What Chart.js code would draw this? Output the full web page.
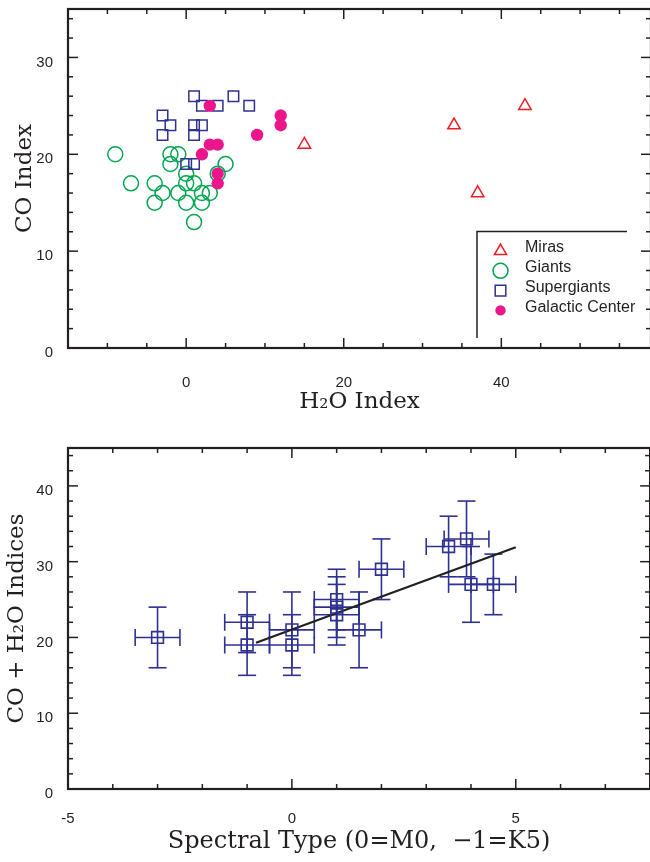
<!DOCTYPE html>
<html>
<head>
<meta charset="utf-8">
<script src="https://cdn.jsdelivr.net/npm/chart.js@4.4.1/dist/chart.umd.min.js"></script>
<style>
  html, body { margin: 0; padding: 0; background: #fff; overflow: hidden; }
  .panel { position: absolute; left: 0; width: 660px; height: 431px; }
  #top { top: 0; }
  #bottom { top: 431px; }
</style>
</head>
<body>
<div class="panel" id="top"><canvas id="indexChart"></canvas></div>
<div class="panel" id="bottom"><canvas id="typeChart"></canvas></div>
<script>
// top panel: CO index against H2O index, [H2O, CO]
const miras = [[15, 21], [34, 23], [37, 16], [43, 25]];
const giants = [[-9, 20], [-7, 17], [-4, 17], [-3, 16], [-4, 15], [-2, 20], [-1, 20], [-2, 19],
  [0, 18], [0, 17], [1, 17], [-1, 16], [0, 15], [2, 16], [3, 16], [2, 15], [1, 13], [5, 19], [4, 18]];
const supergiants = [[1, 26], [2, 25], [4, 25], [6, 26], [8, 25], [-3, 24], [-2, 23], [-3, 22],
  [1, 23], [2, 23], [1, 22], [0, 19], [1, 19]];
const galacticCenter = [[3, 25], [9, 22], [3, 21], [4, 21], [2, 20], [4, 18], [4, 17], [12, 24], [12, 23]];
const legendLabels = ['Miras', 'Giants', 'Supergiants', 'Galactic Center'];

// bottom panel: CO + H2O against spectral type
const spectralType = [-3, -1, -1, 0, 0, 1, 1, 1, 1.5, 2, 3.5, 3.9, 4, 4.5];
const combinedIndex = [20, 22, 19, 21, 19, 25, 24, 23, 21, 29, 32, 33, 27, 27];
const typeErr = [0.5, 0.5, 0.5, 0.5, 0.5, 0.5, 0.5, 0.5, 0.5, 0.5, 0.5, 0.5, 0.5, 0.5];
const indexErr = [4, 4, 4, 5, 4, 4, 4, 4, 5, 4, 4, 5, 5, 4];
const fitType = [-0.8, 5];
const fitIndex = [19.3, 31.9];

const RED = '#ed1c24', GREEN = '#00a651', NAVY = '#2e3192', MAGENTA = '#ec168c', INK = '#231f20';
const tickFont = { family: 'Liberation Sans', size: 15 };
const titleFont = { family: 'DejaVu Serif', size: 23 };
const noGrid = { display: false, drawTicks: false };

const toPts = arr => arr.map(p => ({ x: p[0], y: p[1] }));

// boxed frame with inward ticks on all four sides
const frameTicks = {
  id: 'frameTicks',
  afterDraw(chart, args, opts) {
    const { ctx, chartArea: a, scales: { x, y } } = chart;
    ctx.save();
    ctx.strokeStyle = INK;
    ctx.lineWidth = 1.5;
    const seg = (x1, y1, x2, y2) => { ctx.beginPath(); ctx.moveTo(x1, y1); ctx.lineTo(x2, y2); ctx.stroke(); };
    const isMajor = (v, step) => Math.abs(v / step - Math.round(v / step)) < 1e-6;
    for (let v = Math.ceil(x.min / opts.xMinor) * opts.xMinor; v <= x.max + 1e-9; v += opts.xMinor) {
      const px = x.getPixelForValue(v);
      const len = isMajor(v, opts.xMajor) ? 10 : 5;
      seg(px, a.bottom, px, a.bottom - len);
      seg(px, a.top, px, a.top + len);
    }
    for (let v = Math.ceil(y.min / opts.yMinor) * opts.yMinor; v <= y.max + 1e-9; v += opts.yMinor) {
      const py = y.getPixelForValue(v);
      const len = isMajor(v, opts.yMajor) ? 10 : 5;
      seg(a.left, py, a.left + len, py);
      seg(a.right, py, a.right - len, py);
    }
    ctx.lineWidth = 2.2;
    ctx.strokeRect(a.left, a.top, a.right - a.left, a.bottom - a.top);
    ctx.restore();
  }
};

function fixedScales(xH, yW) {
  return {
    x: { afterFit(s) { s.height = xH; s.paddingLeft = s.paddingRight = s.paddingTop = s.paddingBottom = 0; } },
    y: { afterFit(s) { s.width = yW; s.paddingLeft = s.paddingRight = s.paddingTop = s.paddingBottom = 0; } }
  };
}

// ---------- top chart ----------
const topDatasets = [
  { label: legendLabels[0], data: toPts(miras), pointStyle: 'triangle', pointRadius: 7.2,
    borderColor: RED, backgroundColor: 'rgba(0,0,0,0)', borderWidth: 1.5, order: 3 },
  { label: legendLabels[1], data: toPts(giants), pointStyle: 'circle', pointRadius: 7.5,
    borderColor: GREEN, backgroundColor: 'rgba(0,0,0,0)', borderWidth: 1.5, order: 3 },
  { label: legendLabels[2], data: toPts(supergiants), pointStyle: 'rect', pointRadius: 7.4,
    borderColor: NAVY, backgroundColor: 'rgba(0,0,0,0)', borderWidth: 1.5, order: 2 },
  { label: legendLabels[3], data: toPts(galacticCenter), pointStyle: 'circle', pointRadius: 6.2,
    borderColor: MAGENTA, backgroundColor: MAGENTA, borderWidth: 0, order: 1 }
];

const insetLegend = {
  id: 'insetLegend',
  afterDraw(chart) {
    const { ctx, chartArea: a } = chart;
    const left = a.right - 174, top = 231.5, bottom = a.bottom - 10;
    ctx.save();
    ctx.strokeStyle = INK;
    ctx.lineWidth = 1.5;
    ctx.beginPath();
    ctx.moveTo(a.right - 24, top);
    ctx.lineTo(left, top);
    ctx.lineTo(left, bottom);
    ctx.stroke();
    const sizes = [7, 7.5, 7.5, 5.2];
    chart.data.datasets.forEach((ds, i) => {
      const yRow = 249.5 + i * 19.8;
      ctx.fillStyle = ds.backgroundColor;
      ctx.strokeStyle = ds.borderColor;
      ctx.lineWidth = ds.borderWidth || 0;
      Chart.helpers.drawPoint(ctx, { pointStyle: ds.pointStyle, radius: sizes[i], rotation: 0,
        borderWidth: ds.borderWidth }, left + 23.5, yRow + 1.5);
      ctx.fillStyle = INK;
      ctx.font = '16px "Liberation Sans"';
      ctx.textBaseline = 'middle';
      ctx.textAlign = 'left';
      ctx.fillText(ds.label, left + 48, yRow - 1.5);
    });
    ctx.restore();
  }
};

const topFix = fixedScales(83, 68);
new Chart(document.getElementById('indexChart'), {
  type: 'scatter',
  data: { datasets: topDatasets },
  options: {
    responsive: true, maintainAspectRatio: false, animation: false, events: [],
    layout: { padding: { left: 0, top: 7, right: 7, bottom: 0 } },
    plugins: { legend: { display: false }, tooltip: { enabled: false },
      frameTicks: { xMinor: 5, xMajor: 20, yMinor: 2, yMajor: 10 } },
    scales: {
      x: {
        type: 'linear', min: -15, max: 59,
        grid: noGrid, border: { display: false },
        ticks: { stepSize: 5, autoSkip: false, maxRotation: 0, padding: 26, color: INK, font: tickFont,
          includeBounds: false, callback: v => (v % 20 === 0 ? String(v) : '') },
        title: { display: true, text: 'H₂O Index', color: INK, font: titleFont, padding: { top: 0, bottom: 15 } },
        afterFit: topFix.x.afterFit
      },
      y: {
        type: 'linear', min: 0, max: 35,
        grid: noGrid, border: { display: false },
        ticks: { stepSize: 2, autoSkip: false, padding: 15, labelOffset: 5, color: INK, font: tickFont,
          includeBounds: false, callback: v => (v % 10 === 0 ? String(v) : '') },
        title: { display: true, text: 'CO Index', color: INK, font: titleFont, padding: { top: 11, bottom: 0 } },
        afterFit: topFix.y.afterFit
      }
    }
  },
  plugins: [frameTicks, insetLegend]
});

// ---------- bottom chart ----------
const errorBars = {
  id: 'errorBars',
  beforeDatasetsDraw(chart) {
    const { ctx, scales: { x, y } } = chart;
    ctx.save();
    ctx.strokeStyle = NAVY;
    ctx.lineWidth = 1.6;
    const seg = (x1, y1, x2, y2) => { ctx.beginPath(); ctx.moveTo(x1, y1); ctx.lineTo(x2, y2); ctx.stroke(); };
    spectralType.forEach((t, i) => {
      const cx = x.getPixelForValue(t), cy = y.getPixelForValue(combinedIndex[i]);
      const x0 = x.getPixelForValue(t - typeErr[i]), x1 = x.getPixelForValue(t + typeErr[i]);
      const y0 = y.getPixelForValue(combinedIndex[i] - indexErr[i]), y1 = y.getPixelForValue(combinedIndex[i] + indexErr[i]);
      seg(x0, cy, x1, cy);
      seg(x0, cy - 8.5, x0, cy + 8.5);
      seg(x1, cy - 8.5, x1, cy + 8.5);
      seg(cx, y0, cx, y1);
      seg(cx - 9, y0, cx + 9, y0);
      seg(cx - 9, y1, cx + 9, y1);
    });
    ctx.restore();
  }
};

const botFix = fixedScales(73, 68);
new Chart(document.getElementById('typeChart'), {
  type: 'scatter',
  data: {
    datasets: [
      { label: 'stars', data: spectralType.map((t, i) => ({ x: t, y: combinedIndex[i] })),
        pointStyle: 'rect', pointRadius: 8.3, borderColor: NAVY, backgroundColor: 'rgba(0,0,0,0)', borderWidth: 1.6 },
      { label: 'fit', data: fitType.map((t, i) => ({ x: t, y: fitIndex[i] })), showLine: true,
        pointRadius: 0, borderColor: INK, borderWidth: 2.2 }
    ]
  },
  options: {
    responsive: true, maintainAspectRatio: false, animation: false, events: [],
    layout: { padding: { left: 0, top: 17, right: 7, bottom: 0 } },
    plugins: { legend: { display: false }, tooltip: { enabled: false },
      frameTicks: { xMinor: 1, xMajor: 5, yMinor: 2, yMajor: 10 } },
    scales: {
      x: {
        type: 'linear', min: -5, max: 8,
        grid: noGrid, border: { display: false },
        ticks: { stepSize: 1, autoSkip: false, maxRotation: 0, padding: 21, color: INK, font: tickFont,
          includeBounds: false, callback: v => (v % 5 === 0 && v <= 5 ? String(v) : '') },
        title: { display: true, text: 'Spectral Type (0=M0,  \u22121=K5)', color: INK,
          font: { family: 'DejaVu Serif', size: 24 }, padding: { top: 0, bottom: 6 } },
        afterFit: botFix.x.afterFit
      },
      y: {
        type: 'linear', min: 0, max: 45,
        grid: noGrid, border: { display: false },
        ticks: { stepSize: 2, autoSkip: false, padding: 15, labelOffset: 5, color: INK, font: tickFont,
          includeBounds: false, callback: v => (v % 10 === 0 ? String(v) : '') },
        title: { display: true, text: 'CO + H₂O Indices', color: INK, font: titleFont, padding: { top: 3, bottom: 0 } },
        afterFit: botFix.y.afterFit
      }
    }
  },
  plugins: [frameTicks, errorBars]
});
</script>
</body>
</html>
